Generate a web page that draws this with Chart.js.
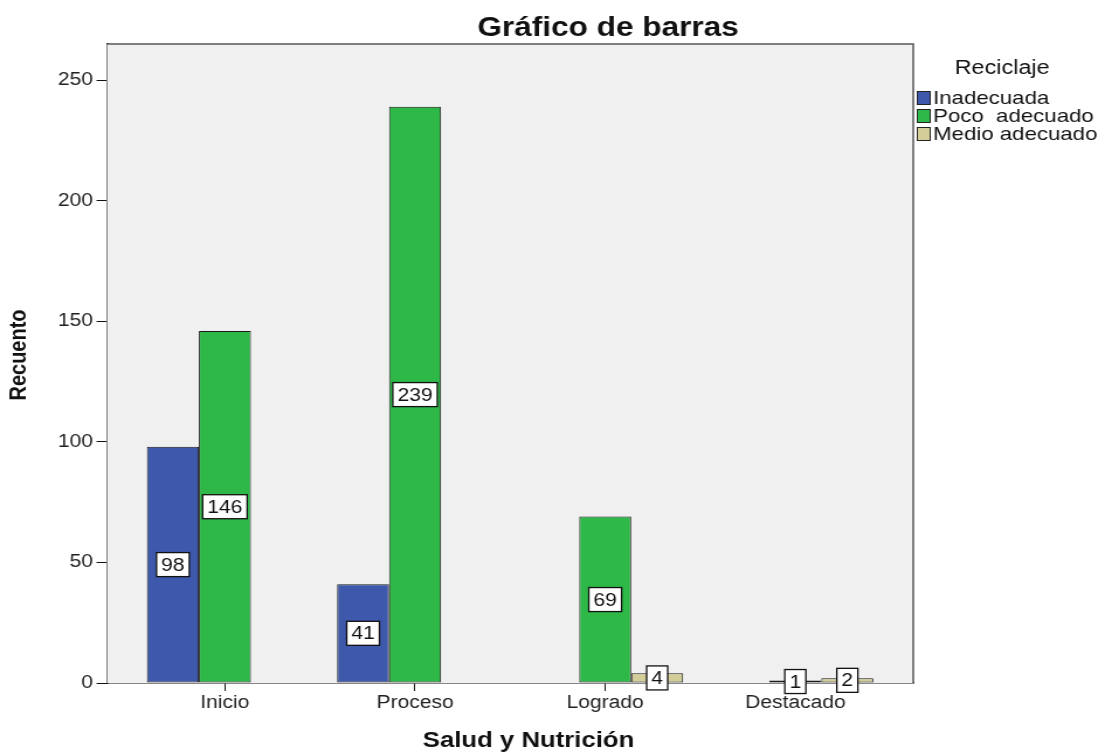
<!DOCTYPE html>
<html>
<head>
<meta charset="utf-8">
<script src="https://cdn.jsdelivr.net/npm/chart.js@4/dist/chart.umd.min.js"></script>
<style>
  html, body { margin: 0; padding: 0; background: #fff; }
  #wrap { width: 1105px; height: 756px; overflow: hidden; }
  /* chart is drawn at 945 wide and shown stretched to 1105 */
  #chart1 { width: 1105px !important; height: 756px !important; }
</style>
</head>
<body>
<div id="wrap"><canvas id="chart1" width="945" height="756" style="width:1105px;height:756px"></canvas></div>
<script>
// counts per level of "Salud y Nutrición", one array per Reciclaje group
var categories = ['Inicio', 'Proceso', 'Logrado', 'Destacado'];
var inadecuada = [98, 41, null, null];
var pocoAdecuado = [146, 239, 69, 1];
var medioAdecuado = [null, null, 4, 2];
var seriesNames = ['Inadecuada', 'Poco  adecuado', 'Medio adecuado'];
var yTicks = [0, 50, 100, 150, 200, 250];

var FONT = 'Arial, "Liberation Sans", sans-serif';

function toPoints(arr) {
  return arr.map(function(v, i) { return { x: i, y: v }; });
}

// grey plot panel with frame
var panel = {
  id: 'panel',
  beforeDatasetsDraw: function(chart) {
    var a = chart.chartArea, ctx = chart.ctx;
    ctx.save();
    ctx.fillStyle = '#f0f0f0';
    ctx.fillRect(a.left, a.top, a.right - a.left, a.bottom - a.top);
    ctx.restore();
  },
  afterDatasetsDraw: function(chart) {
    var a = chart.chartArea, ctx = chart.ctx;
    ctx.save();
    ctx.strokeStyle = '#555';
    ctx.lineWidth = 1.5;
    ctx.beginPath();
    ctx.moveTo(a.left, a.top);
    ctx.lineTo(a.right, a.top);
    ctx.lineTo(a.right, a.bottom);
    ctx.stroke();
    ctx.restore();
  }
};

// boxed count in the middle of every bar
var barLabels = {
  id: 'barLabels',
  afterDatasetsDraw: function(chart) {
    var ctx = chart.ctx;
    ctx.save();
    ctx.font = '18px ' + FONT;
    ctx.textAlign = 'center';
    ctx.textBaseline = 'middle';
    chart.data.datasets.forEach(function(ds, di) {
      var meta = chart.getDatasetMeta(di);
      meta.data.forEach(function(bar, i) {
        var v = ds.data[i].y;
        if (v === null) return;
        var txt = String(v);
        var w = ctx.measureText(txt).width + 8;
        var h = 24;
        var cy = (bar.y + bar.base) / 2;
        ctx.fillStyle = '#fff';
        ctx.fillRect(bar.x - w / 2, cy - h / 2, w, h);
        ctx.strokeStyle = '#111';
        ctx.lineWidth = 1.3;
        ctx.strokeRect(bar.x - w / 2, cy - h / 2, w, h);
        ctx.fillStyle = '#111';
        ctx.fillText(txt, bar.x, cy + 1);
      });
    });
    ctx.restore();
  }
};

// title, axis titles and legend
var extras = {
  id: 'extras',
  afterDraw: function(chart) {
    var ctx = chart.ctx;
    ctx.save();
    ctx.fillStyle = '#111';
    ctx.textAlign = 'center';
    ctx.textBaseline = 'middle';
    ctx.font = 'bold 27px ' + FONT;
    ctx.fillText('Gráfico de barras', 520, 29);

    ctx.font = 'bold 22px ' + FONT;
    ctx.fillText('Salud y Nutrición', 452, 741);

    ctx.save();
    ctx.translate(16, 355);
    ctx.rotate(-Math.PI / 2);
    ctx.font = 'bold 20px ' + FONT;
    ctx.fillText('Recuento', 0, 0);
    ctx.restore();

    ctx.font = '20px ' + FONT;
    ctx.fillText('Reciclaje', 857, 68);

    ctx.textAlign = 'left';
    ctx.font = '19px ' + FONT;
    chart.data.datasets.forEach(function(ds, i) {
      var y = 98 + i * 18;
      ctx.fillStyle = ds.backgroundColor;
      ctx.fillRect(784, y - 7, 12, 14);
      ctx.strokeStyle = '#222';
      ctx.lineWidth = 1;
      ctx.strokeRect(784.5, y - 6.5, 11, 13);
      ctx.fillStyle = '#111';
      ctx.fillText(ds.label, 798, y + 1);
    });
    ctx.restore();
  }
};

var config = {
  type: 'bar',
  data: {
    datasets: [
      { label: seriesNames[0], data: toPoints(inadecuada), backgroundColor: '#3e58ac' },
      { label: seriesNames[1], data: toPoints(pocoAdecuado), backgroundColor: '#2eb848' },
      { label: seriesNames[2], data: toPoints(medioAdecuado), backgroundColor: '#d3ce97' }
    ]
  },
  options: {
    responsive: false,
    animation: false,
    layout: { padding: { left: 0, top: 44, right: 164, bottom: 0 } },
    datasets: {
      bar: {
        borderColor: '#1a1a1a',
        borderWidth: 1,
        borderSkipped: false,
        categoryPercentage: 0.82,
        barPercentage: 1
      }
    },
    plugins: {
      legend: { display: false },
      title: { display: false },
      tooltip: { enabled: false }
    },
    scales: {
      x: {
        type: 'linear',
        min: -0.62,
        max: 3.62,
        offset: false,
        afterFit: function(scale) { scale.height = 73; },
        grid: { offset: false, drawOnChartArea: false, drawTicks: true, tickLength: 8, color: '#111' },
        border: { display: true, color: '#111', width: 1.5 },
        afterBuildTicks: function(scale) {
          scale.ticks = categories.map(function(c, i) { return { value: i }; });
        },
        ticks: {
          autoSkip: false,
          maxRotation: 0,
          padding: 1,
          color: '#222',
          font: { family: FONT, size: 18 },
          callback: function(v) { return categories[v]; }
        }
      },
      y: {
        min: 0,
        max: 265,
        afterFit: function(scale) { scale.width = 91.5; },
        afterBuildTicks: function(scale) {
          scale.ticks = yTicks.map(function(v) { return { value: v }; });
        },
        grid: { drawOnChartArea: false, drawTicks: true, tickLength: 9, color: '#111' },
        border: { display: true, color: '#111', width: 1.5 },
        ticks: {
          padding: 3,
          color: '#222',
          font: { family: FONT, size: 18 }
        }
      }
    }
  },
  plugins: [panel, barLabels, extras]
};

var chart = new Chart(document.getElementById('chart1'), config);
</script>
</body>
</html>
